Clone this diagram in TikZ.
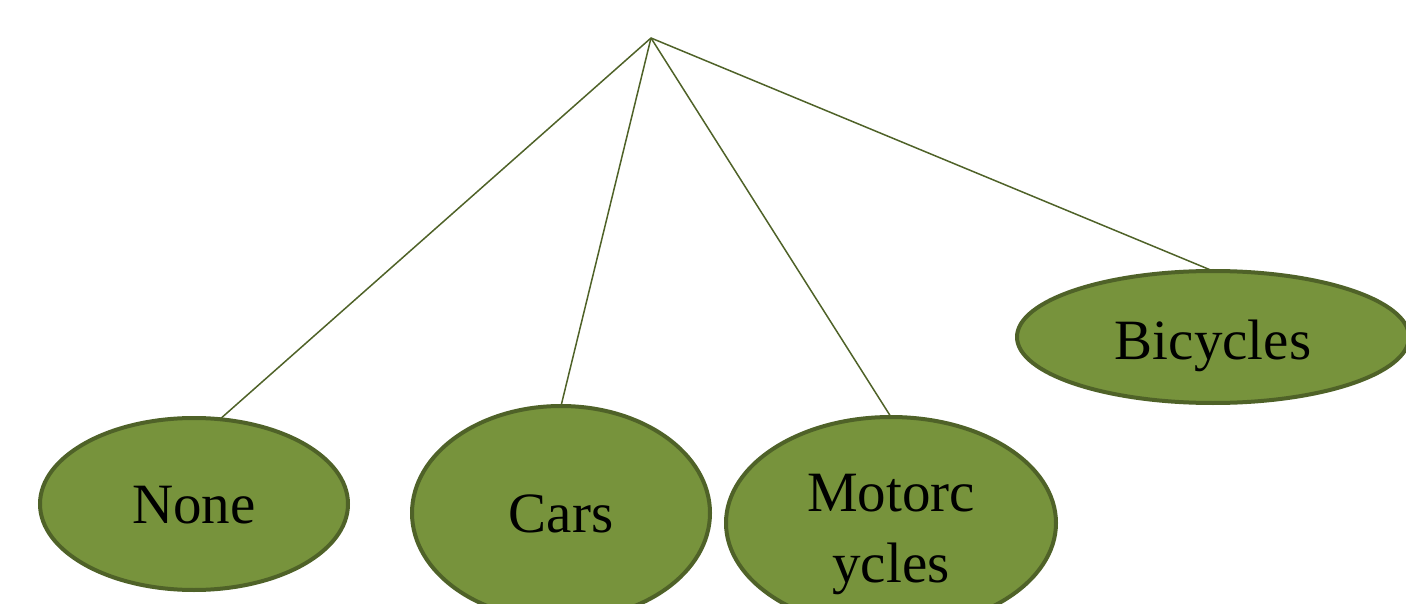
\documentclass[tikz,border=0pt]{standalone}
\usepackage{fontspec}
\setmainfont{Liberation Serif}
\usetikzlibrary{shapes.geometric}
\definecolor{olivefill}{HTML}{77933C}
\definecolor{olivedark}{HTML}{4F6228}
\newcommand{\dropby}[2]{\raisebox{-#1pt}[\height][\depth]{\begin{tabular}{@{}c@{}}#2\end{tabular}}}
\tikzset{
  leaf/.style={ellipse, draw=olivedark, line width=4pt, fill=olivefill, inner sep=0pt, outer sep=0pt,
    font=\fontsize{57}{71}\selectfont, text=black, align=center},
  link/.style={draw=olivedark, line width=1.5pt}
}
\begin{document}
\begin{tikzpicture}[x=1pt, y=-1pt]
\useasboundingbox (0,0) rectangle (1406,604);
\clip (0,0) rectangle (1406,604);
\coordinate (apex) at (651,38);
\node[leaf, minimum width=308pt, minimum height=172pt] (none) at (194,504) {\dropby{5}{None}};
\node[leaf, minimum width=298pt, minimum height=214pt] (cars) at (561,513) {\dropby{5}{Cars}};
\node[leaf, minimum width=330pt, minimum height=212pt] (moto) at (891,523) {\dropby{10}{Motorc\\ycles}};
\node[leaf, minimum width=392pt, minimum height=132pt] (bike) at (1213,337) {\dropby{8}{Bicycles}};
\draw[link] (apex) -- (none.73);
\draw[link] (apex) -- (cars.north);
\draw[link] (apex) -- (moto.north);
\draw[link] (apex) -- (bike.north);
\end{tikzpicture}
\end{document}
